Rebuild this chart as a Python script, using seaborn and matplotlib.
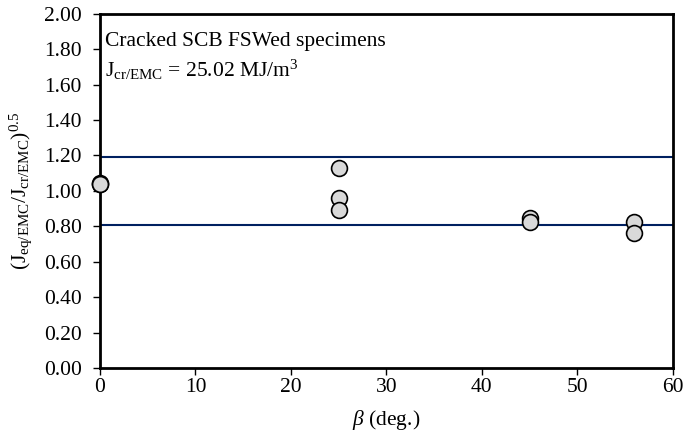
import matplotlib
matplotlib.use("Agg")
import matplotlib.pyplot as plt
import seaborn as sns
import pandas as pd

beta = [0, 0, 0, 25, 25, 25, 45, 45, 56, 56]
ratio = [1.04, 1.045, 1.04, 1.13, 0.96, 0.89, 0.845, 0.825, 0.825, 0.765]
limits = [1.19, 0.805]
x_ticks = [0, 10, 20, 30, 40, 50, 60]
y_ticks = [0.0, 0.2, 0.4, 0.6, 0.8, 1.0, 1.2, 1.4, 1.6, 1.8, 2.0]
note_lines = ["Cracked SCB FSWed specimens", r"$\mathrm{J}_{\mathrm{cr/EMC}}$ = 25.02 MJ/m$^3$"]

sns.set_theme(style="white")
plt.rcParams['font.family'] = ['Liberation Serif', 'DejaVu Serif']
plt.rcParams['mathtext.fontset'] = 'custom'
plt.rcParams['mathtext.rm'] = 'Liberation Serif'
plt.rcParams['mathtext.it'] = 'Liberation Serif:italic'

FS = 15.5
df = pd.DataFrame({"beta": beta, "ratio": ratio})

fig = plt.figure(figsize=(6.85, 4.45), dpi=100)
ax = fig.add_axes([0.146, 0.173, 0.836, 0.796])

for v in limits:
    ax.axhline(v, color="#002060", lw=1.5, zorder=1)

sns.scatterplot(data=df, x="beta", y="ratio", ax=ax, s=130, color="#d9d9d9",
                edgecolor="black", linewidth=1.2, zorder=3, clip_on=False)

ax.set_xlim(0, 60)
ax.set_ylim(0, 2.0)
ax.set_xticks(x_ticks)
ax.set_xticklabels([str(t) for t in x_ticks])
ax.set_yticks(y_ticks)
ax.set_yticklabels([f"{t:.2f}" for t in y_ticks])
ax.tick_params(axis="both", direction="out", length=5, width=1, color="black",
               labelsize=FS, labelcolor="black", bottom=True, left=True)
ax.tick_params(axis="y", pad=8)
ax.tick_params(axis="x", pad=2)
for sp in ax.spines.values():
    sp.set_color("black")
    sp.set_linewidth(2)

ax.set_xlabel(r"$\mathit{\beta}$ (deg.)", fontsize=FS, color="black", labelpad=8)
ax.set_ylabel(r"$(\mathrm{J}_{\mathrm{eq/EMC}}/\mathrm{J}_{\mathrm{cr/EMC}})^{0.5}$",
              fontsize=FS, color="black", labelpad=7)

ax.text(0.008, 0.95, note_lines[0], transform=ax.transAxes, fontsize=FS,
        va="top", ha="left", color="black")
ax.text(0.008, 0.875, note_lines[1], transform=ax.transAxes, fontsize=FS,
        va="top", ha="left", color="black")

fig.savefig("out.png", dpi=100)
